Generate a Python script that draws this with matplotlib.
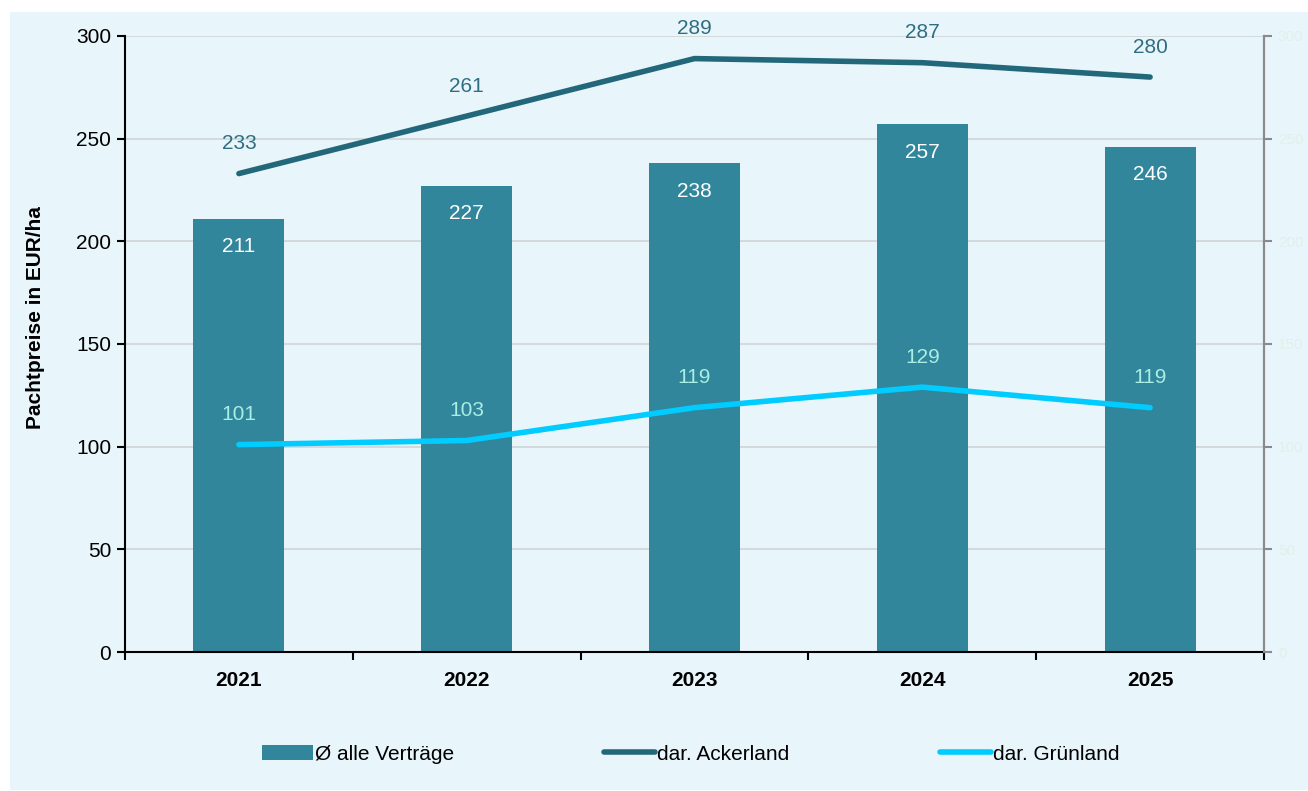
import matplotlib.pyplot as plt
from matplotlib.patches import Rectangle
import numpy as np

plt.rcParams['font.family'] = ['Liberation Sans', 'DejaVu Sans']

years = ['2021', '2022', '2023', '2024', '2025']
alle = [211, 227, 238, 257, 246]
acker = [233, 261, 289, 287, 280]
gruen = [101, 103, 119, 129, 119]

bg = '#E8F5FB'
bar_col = '#31869B'
acker_col = '#23687A'
gruen_col = '#00CCFF'

fig = plt.figure(figsize=(13.08, 7.91), dpi=100, facecolor='white')
# light blue panel behind everything
fig.patches.append(Rectangle((10 / 1308, 1 - 790 / 791), 1298 / 1308, 778 / 791,
                             transform=fig.transFigure, facecolor=bg, edgecolor='none', zorder=-5))

ax = fig.add_axes([125 / 1308, 1 - 652 / 791, 1139 / 1308, 616 / 791])
ax.set_facecolor(bg)
x = np.arange(len(years))

b = ax.bar(x, alle, width=0.4, color=bar_col, zorder=2)
l1, = ax.plot(x, acker, color=acker_col, lw=4, solid_capstyle='round', zorder=3)
l2, = ax.plot(x, gruen, color=gruen_col, lw=4, solid_capstyle='round', zorder=3)

for xi, v in zip(x, alle):
    ax.text(xi, v - 9, str(v), ha='center', va='top', color='white', fontsize=15, zorder=4)
for xi, v in zip(x, acker):
    ax.text(xi, v + 10, str(v), ha='center', va='bottom', color='#2F6E80', fontsize=15, zorder=4)
for xi, v in zip(x, gruen):
    ax.text(xi, v + 10, str(v), ha='center', va='bottom', color='#A8EEE2', fontsize=15, zorder=4)

ax.set_xlim(-0.5, len(years) - 0.5)
ax.set_ylim(0, 300)
ax.set_yticks(range(0, 301, 50))
ax.set_xticks(x)
ax.set_xticklabels(years, fontweight='bold', fontsize=15)
ax.set_xticks(np.arange(-0.5, len(years), 1), minor=True)
ax.tick_params(axis='x', which='major', length=0, pad=14)
ax.tick_params(axis='x', which='minor', length=6, width=1.5, direction='out')
ax.tick_params(axis='y', labelsize=15, length=6, width=1.5, pad=4)
ax.grid(axis='y', color='#D0D4D6', lw=1.2, zorder=1)
ax.set_axisbelow(True)
ax.spines['top'].set_visible(False)
ax.spines['left'].set_linewidth(1.5)
ax.spines['bottom'].set_linewidth(1.5)
ax.spines['right'].set_color('#808080')
ax.spines['right'].set_linewidth(1.5)
ax.set_ylabel('Pachtpreise in EUR/ha', fontweight='bold', fontsize=15)
ax.yaxis.set_label_coords((45 - 125) / 1139, (652 - 318) / 616)

# secondary axis: grey ticks, nearly invisible labels
ax2 = ax.twinx()
ax2.set_ylim(0, 300)
ax2.set_yticks(range(0, 301, 50))
ax2.tick_params(axis='y', colors='#8A8A8A', labelcolor='#E0F0EA', labelsize=11, length=6, width=1.5, pad=4)
for s in ['top', 'left', 'bottom']:
    ax2.spines[s].set_visible(False)
ax2.spines['right'].set_color('#8A8A8A')
ax2.spines['right'].set_linewidth(1.5)

fig.legend([b, l1, l2], ['Ø alle Verträge', 'dar. Ackerland', 'dar. Grünland'],
           loc='center', bbox_to_anchor=(0.528, 1 - 754 / 791), ncol=3, frameon=False,
           fontsize=15, handlelength=2.45, handletextpad=0.1, columnspacing=7.2)

fig.savefig('out.png', dpi=100, facecolor='white')
